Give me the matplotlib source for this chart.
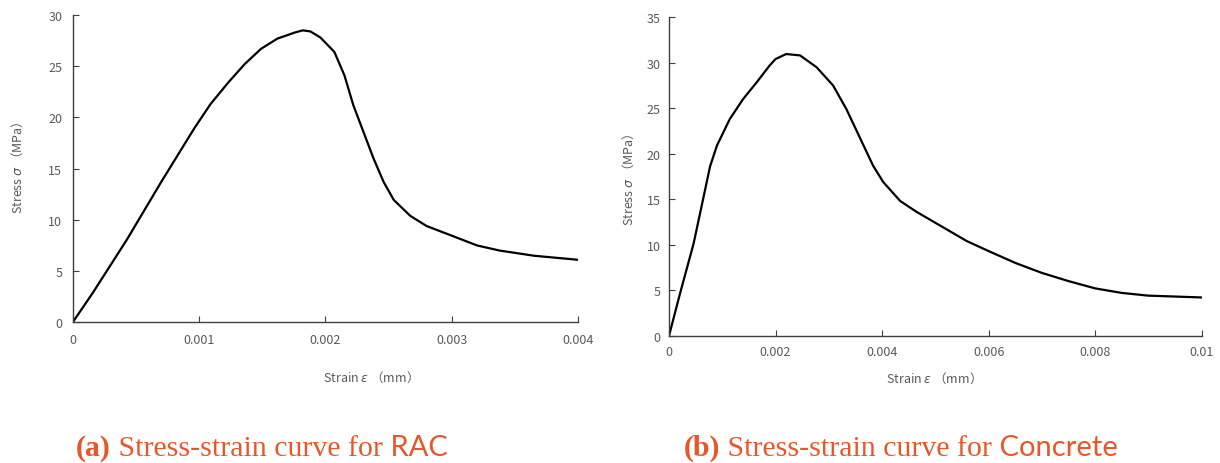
import matplotlib
matplotlib.use("Agg")
import matplotlib.pyplot as plt

# (a) RAC stress-strain
rac_strain = [0, 0.00016, 0.00043, 0.0007, 0.00083, 0.00096, 0.00109, 0.00123, 0.00136,
              0.00149, 0.00162, 0.00176, 0.00182, 0.00188, 0.00196, 0.00207, 0.00215,
              0.00222, 0.0023, 0.00238, 0.00246, 0.00254, 0.00267, 0.0028, 0.00299,
              0.0032, 0.00338, 0.00365, 0.004]
rac_stress = [0, 2.9, 8.1, 13.7, 16.3, 18.9, 21.3, 23.4, 25.2,
              26.7, 27.7, 28.3, 28.5, 28.4, 27.8, 26.4, 24.1,
              21.2, 18.6, 16.0, 13.7, 11.95, 10.4, 9.4, 8.5,
              7.5, 7.0, 6.5, 6.1]

# (b) Concrete stress-strain
con_strain = [0, 0.0002, 0.00046, 0.00061, 0.00077, 0.0009, 0.00114, 0.00139,
              0.00164, 0.00189, 0.002, 0.0022, 0.00246, 0.00277, 0.00308, 0.00333,
              0.00358, 0.00383, 0.00402, 0.00434, 0.00465, 0.00509, 0.00559, 0.006,
              0.0065, 0.007, 0.0075, 0.008, 0.0085, 0.009, 0.0095, 0.01]
con_stress = [0, 4.5, 10.1, 14.2, 18.6, 20.9, 23.8, 26.0,
              27.8, 29.7, 30.4, 30.95, 30.8, 29.5, 27.5, 24.9,
              21.8, 18.7, 16.9, 14.8, 13.6, 12.1, 10.4, 9.3,
              8.0, 6.9, 6.0, 5.2, 4.7, 4.4, 4.3, 4.2]

rac_xticks = [0, 0.001, 0.002, 0.003, 0.004]
rac_xlabels = ["0", "0.001", "0.002", "0.003", "0.004"]
con_xticks = [0, 0.002, 0.004, 0.006, 0.008, 0.01]
con_xlabels = ["0", "0.002", "0.004", "0.006", "0.008", "0.01"]

W, H = 1220, 464
GRAY = "#595959"
AXC = "#3f3f3f"
ORANGE = "#E8562A"
CJK = "Noto Sans CJK SC"
plt.rcParams["mathtext.fontset"] = "dejavusans"

fig = plt.figure(figsize=(W / 100, H / 100), dpi=100)
ax1 = fig.add_axes([0.0596, 0.3032, 0.4144, 0.6623])
ax2 = fig.add_axes([0.5484, 0.2744, 0.4365, 0.6864])

def style(ax, xt, xl, ymax, xpad, ypad):
    for s in ("top", "right"):
        ax.spines[s].set_visible(False)
    for s in ("left", "bottom"):
        ax.spines[s].set_color(AXC)
        ax.spines[s].set_linewidth(1.0)
    ax.set_xlim(xt[0], xt[-1])
    ax.set_ylim(0, ymax)
    ax.set_xticks(xt)
    ax.set_xticklabels(xl, family=CJK, fontsize=9, color=GRAY)
    yt = list(range(0, ymax + 1, 5))
    ax.set_yticks(yt)
    ax.set_yticklabels([str(v) for v in yt], family=CJK, fontsize=9, color=GRAY)
    ax.tick_params(direction="in", length=4, color=AXC, width=0.8)
    ax.tick_params(axis="x", pad=xpad)
    ax.tick_params(axis="y", pad=ypad)

ax1.plot(rac_strain, rac_stress, color="black", lw=1.6, solid_joinstyle="round")
style(ax1, rac_xticks, rac_xlabels, 30, 8, 7.5)
ax2.plot(con_strain, con_stress, color="black", lw=1.6, solid_joinstyle="round")
style(ax2, con_xticks, con_xlabels, 35, 6.5, 6)

ylab = "Stress $\\sigma$ （MPa）"
xlab = "Strain $\\varepsilon$ （mm）"
lab = dict(family=CJK, fontsize=9, color=GRAY, ha="center", va="center")
fig.text(17 / W, 1 - 168 / H, ylab, rotation=90, **lab)
fig.text(628 / W, 1 - 180 / H, ylab, rotation=90, **lab)
fig.text(367 / W, 1 - 377 / H, xlab, **lab)
fig.text(930 / W, 1 - 378 / H, xlab, **lab)

renderer = fig.canvas.get_renderer()

def caption(parts, x, y):
    """Lay caption pieces left to right on one baseline, starting at pixel x."""
    for s, kw in parts:
        t = fig.text(x / W, 1 - y / H, s, va="baseline", ha="left", **kw)
        x += t.get_window_extent(renderer).width

cap_serif = dict(family="Liberation Serif", fontsize=21.5, color=ORANGE)
cap_sans = dict(family=["Lato", "DejaVu Sans"], fontsize=21, color=ORANGE)
caption([("(a)", dict(fontweight="bold", **cap_serif)),
         (" Stress-strain curve for", cap_serif),
         (" RAC", cap_sans)], 76, 456)
caption([("(b)", dict(fontweight="bold", **cap_serif)),
         (" Stress-strain curve for", cap_serif),
         (" Concrete", cap_sans)], 684, 456)

fig.savefig("out.png", dpi=100)
